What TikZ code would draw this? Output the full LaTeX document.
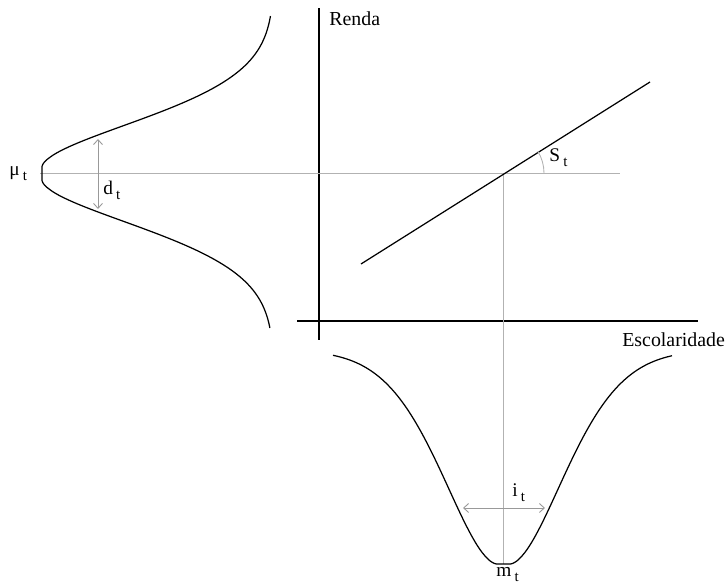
\documentclass[tikz,border=0pt]{standalone}
\usepackage{fontspec}
\setmainfont{Liberation Serif}
\usetikzlibrary{arrows.meta}
\newcommand{\subt}{\,\raisebox{-0.5ex}{\fontsize{8.5}{9}\selectfont t}}

\begin{document}
\begin{tikzpicture}[
    x=0.02cm, y=-0.02cm,
    font=\fontsize{11.3}{13}\selectfont,
    axis/.style={
        line width=0.8pt,
        draw=black
    },
    curve/.style={
        line width=0.7pt,
        draw=black,
        line join=round
    },
    guide/.style={
        line width=0.5pt,
        draw=black!30
    },
    span/.style={
        {Straight Barb[length=1mm,width=1.8mm]}-{Straight Barb[length=1mm,width=1.8mm]},
        line width=0.5pt,
        draw=black!40
    },
    axis label/.style={
        inner sep=0pt,
        anchor=base west
    },
    param/.style={
        inner sep=0pt,
        anchor=base west,
        font=\fontsize{11}{12}\selectfont
    }
]
    \useasboundingbox (0,0) rectangle (725,587);

    % axes
    \coordinate (ytop) at (319,8);
    \coordinate (ybot) at (319,340);
    \coordinate (xleft) at (297,321);
    \coordinate (xright) at (698,321);
    \draw[axis] (ybot) -- (ytop);
    \draw[axis] (xleft) -- (xright);
    \node[axis label] (renda) at (329,26) {Renda};
    \node[axis label] (escolaridade) at (622,347) {Escolaridade};

    % guides through the mean point
    \coordinate (mean) at (503,173);
    \coordinate (guideleft) at (40,173);
    \coordinate (guideright) at (620,173);
    \coordinate (meanlow) at (503,564);
    \draw[guide] (guideleft) -- (guideright);
    \draw[guide] (mean) -- (meanlow);

    % regression line and its slope
    \coordinate (linelow) at (361,264);
    \coordinate (linehigh) at (650,82);
    \draw[curve] (linelow) -- (linehigh);
    \draw[guide] (544,173) arc[start angle=0, end angle=32, radius=0.82cm];
    \node[param] (slope) at (549,162) {S\subt};

    % income density (left)
    \draw[curve]
        plot[domain=151:0.5, samples=70]
            ({42+232*(1-exp(-(\x/66.7)^1.75))}, {167-\x})
        -- (42,180)
        -- plot[domain=0.5:148, samples=70]
            ({42+232*(1-exp(-(\x/66.7)^1.75))}, {180+\x});
    \coordinate (dtop) at (98,139);
    \coordinate (dbot) at (98,209);
    \draw[span] (dtop) -- (dbot);
    \node[param] (mu) at (9,176) {μ\subt};
    \node[param] (dispersion) at (103,195) {d\subt};

    % schooling density (bottom)
    \draw[curve]
        plot[domain=164:0.5, samples=70]
            ({497-\x}, {564-214*(1-exp(-(\x/77.7)^1.75))})
        -- (510,564)
        -- plot[domain=0.5:162, samples=70]
            ({510+\x}, {564-214*(1-exp(-(\x/77.7)^1.75))});
    \coordinate (ileft) at (463,508);
    \coordinate (iright) at (545,508);
    \draw[span] (ileft) -- (iright);
    \node[param] (ineq) at (512,497) {i\subt};
    \node[param] (mode) at (496,577) {m\subt};
\end{tikzpicture}
\end{document}
